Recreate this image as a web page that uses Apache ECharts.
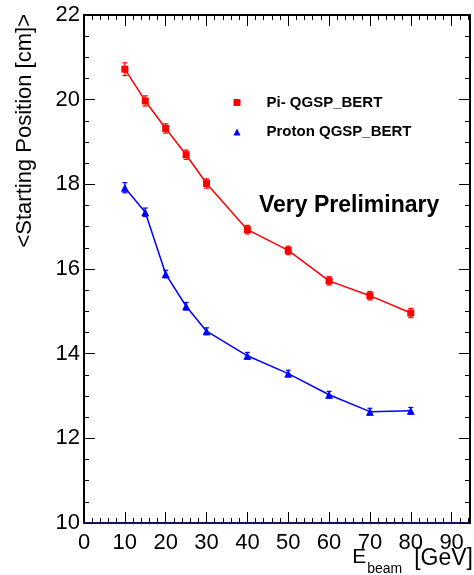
<!DOCTYPE html>
<html>
<head>
<meta charset="utf-8">
<script src="https://cdn.jsdelivr.net/npm/echarts@6/dist/echarts.min.js"></script>
<style>html,body{margin:0;padding:0;background:#fff;}#c{width:474px;height:575px;}</style>
</head>
<body>
<div id="c"></div>
<script>
var energies = [10, 15, 20, 25, 30, 40, 50, 60, 70, 80];
var piValues = [20.72, 19.97, 19.32, 18.70, 18.02, 16.93, 16.44, 15.72, 15.37, 14.96];
var piErrors = [0.15, 0.12, 0.11, 0.11, 0.11, 0.10, 0.10, 0.10, 0.10, 0.11];
var protonValues = [17.92, 17.34, 15.88, 15.12, 14.53, 13.95, 13.53, 13.03, 12.63, 12.65];
var protonErrors = [0.12, 0.10, 0.09, 0.09, 0.08, 0.08, 0.08, 0.08, 0.08, 0.08];
var piName = 'Pi- QGSP_BERT';
var protonName = 'Proton QGSP_BERT';
var yTitle = '<Starting Position [cm]>';
var annotation = 'Very Preliminary';

var FONT = 'Liberation Sans, Arial, Helvetica, sans-serif';

function pairs(xs, ys) { return xs.map(function (x, i) { return [x, ys[i]]; }); }
function errData(xs, ys, es) { return xs.map(function (x, i) { return [x, ys[i] - es[i], ys[i] + es[i]]; }); }

function errorRender(color) {
  return function (params, api) {
    var x = api.value(0);
    var lo = api.coord([x, api.value(1)]);
    var hi = api.coord([x, api.value(2)]);
    var w = 2.5;
    var st = { stroke: color, lineWidth: 1.2 };
    return {
      type: 'group',
      children: [
        { type: 'line', shape: { x1: lo[0], y1: lo[1], x2: hi[0], y2: hi[1] }, style: st },
        { type: 'line', shape: { x1: lo[0] - w, y1: lo[1], x2: lo[0] + w, y2: lo[1] }, style: st },
        { type: 'line', shape: { x1: hi[0] - w, y1: hi[1], x2: hi[0] + w, y2: hi[1] }, style: st }
      ]
    };
  };
}

var tickStyle = { color: '#000', width: 1 };
function xAxisDef(pos, lineColor, labels) {
  return {
    type: 'value', min: 0, max: 94.5, interval: 10, position: pos,
    axisLine: { show: true, onZero: false, lineStyle: { color: lineColor, width: 2 } },
    axisTick: { show: true, inside: true, length: 11, lineStyle: tickStyle },
    minorTick: { show: true, splitNumber: 5, length: 5, lineStyle: tickStyle },
    splitLine: { show: false }, minorSplitLine: { show: false },
    axisLabel: labels ? { show: true, fontSize: 22, color: '#000', margin: 9, fontFamily: FONT, showMaxLabel: false,
      formatter: function (v) { return (v % 10 === 0) ? String(v) : ''; } } : { show: false }
  };
}
function yAxisDef(pos, labels) {
  return {
    type: 'value', min: 10, max: 22, interval: 2, position: pos,
    axisLine: { show: true, onZero: false, lineStyle: { color: '#000', width: 2 } },
    axisTick: { show: true, inside: true, length: 11, lineStyle: tickStyle },
    minorTick: { show: true, splitNumber: 4, length: 5, lineStyle: tickStyle },
    splitLine: { show: false }, minorSplitLine: { show: false },
    axisLabel: labels ? { show: true, fontSize: 22, color: '#000', margin: 4, fontFamily: FONT, padding: [3, 0, 0, 0] } : { show: false }
  };
}

var chart = echarts.init(document.getElementById('c'), null, { renderer: 'canvas' });
chart.setOption({
  animation: false,
  backgroundColor: '#fff',
  textStyle: { fontFamily: FONT },
  grid: { left: 84, right: 4, top: 15, bottom: 52, containLabel: false },
  xAxis: [xAxisDef('bottom', '#14146e', true), xAxisDef('top', '#000', false)],
  yAxis: [yAxisDef('left', true), yAxisDef('right', false)],
  legend: {
    orient: 'vertical', left: 228.5, top: 90, itemGap: 14.5,
    itemWidth: 7, itemHeight: 7,
    textStyle: { fontSize: 15, fontWeight: 'bold', color: '#000', fontFamily: FONT, padding: [0, 0, 0, 21] },
    data: [
      { name: piName, icon: 'rect', itemStyle: { color: '#ff0000' } },
      { name: protonName, icon: 'triangle', itemStyle: { color: '#0000ff' } }
    ]
  },
  graphic: [
    { type: 'text', x: 25, y: 14, rotation: Math.PI / 2,
      style: { text: yTitle, fontSize: 22, fontFamily: FONT, fill: '#000', align: 'right', verticalAlign: 'middle' } },
    { type: 'text', right: 1, top: 547,
      style: { rich: { big: { fontSize: 21, lineHeight: 21, fontFamily: FONT, fill: '#000', verticalAlign: 'top' },
                       unit: { fontSize: 23, lineHeight: 23, fontFamily: FONT, fill: '#000', verticalAlign: 'top' },
                       sub: { fontSize: 14, lineHeight: 14, fontFamily: FONT, fill: '#000', verticalAlign: 'top', padding: [15, 12, 0, 1] } },
               text: '{big|E}{sub|beam}{unit|[GeV]}', fill: '#000' } },
    { type: 'text', left: 259, top: 194,
      style: { text: annotation, fontSize: 23, fontWeight: 'bold', fontFamily: FONT, fill: '#000' } }
  ],
  series: [
    { name: piName, type: 'line', data: pairs(energies, piValues), symbol: 'rect', symbolSize: 7,
      lineStyle: { color: '#ff0000', width: 1.5 }, itemStyle: { color: '#ff0000' }, z: 3 },
    { name: protonName, type: 'line', data: pairs(energies, protonValues), symbol: 'triangle', symbolSize: 8,
      lineStyle: { color: '#0000ff', width: 1.5 }, itemStyle: { color: '#0000ff' }, z: 3 },
    { type: 'custom', renderItem: errorRender('#ff0000'), data: errData(energies, piValues, piErrors), z: 4 },
    { type: 'custom', renderItem: errorRender('#0000ff'), data: errData(energies, protonValues, protonErrors), z: 4 }
  ]
});
</script>
</body>
</html>
